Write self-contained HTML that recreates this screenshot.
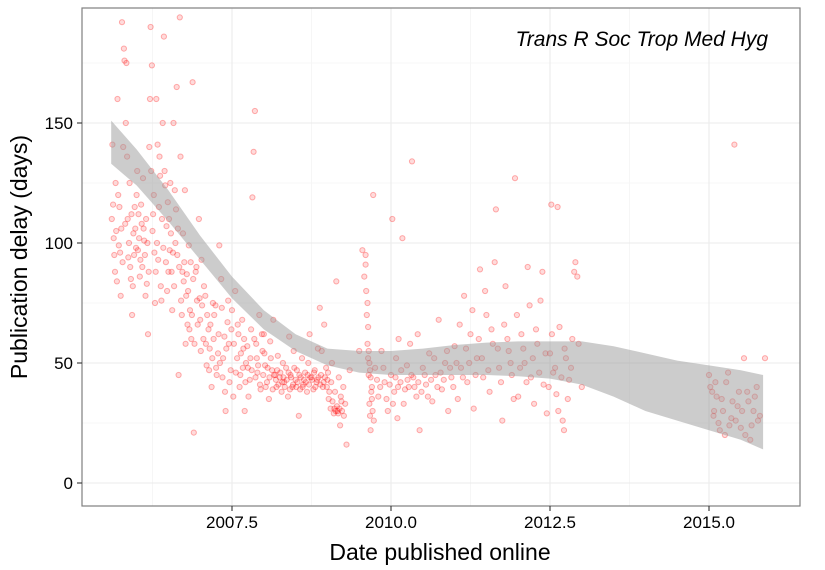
<!DOCTYPE html>
<html><head><meta charset="utf-8"><style>
body{margin:0;background:#fff;}
svg{display:block;font-family:"Liberation Sans",sans-serif;}
</style></head><body>
<svg id="chart" width="825" height="570" viewBox="0 0 825 570" xmlns="http://www.w3.org/2000/svg">
<rect x="0" y="0" width="825" height="570" fill="#fff"/>
<g id="grid"></g>
<g id="pts"></g>
<g id="band"></g>
<rect x="82" y="8" width="718" height="498" fill="none" stroke="#7f7f7f" stroke-width="1.2"/>
<g id="axes"></g>
<text x="768" y="46" text-anchor="end" font-size="21" font-style="italic" fill="#000">Trans R Soc Trop Med Hyg</text>
<text x="440" y="560" text-anchor="middle" font-size="23" fill="#000">Date published online</text>
<text transform="translate(27,257) rotate(-90)" text-anchor="middle" font-size="23" fill="#000">Publication delay (days)</text>
</svg>
<script>
const xTicks=[2007.5,2010.0,2012.5,2015.0];
const xTickLabels=["2007.5","2010.0","2012.5","2015.0"];
const yTicks=[0,50,100,150];
const yTickLabels=["0","50","100","150"];
const bandX=[2005.6,2006.0,2006.5,2007.0,2007.5,2008.0,2008.5,2009.0,2009.5,2010.0,2010.5,2011.0,2011.5,2012.0,2012.5,2013.0,2013.5,2014.0,2014.5,2015.0,2015.5,2015.85];
const bandUpper=[151,139,122,103,86,72,62,56,55,55,56,57.5,58.5,59,59,59,57,54,51,49,47,45];
const bandLower=[133,124,109,93,77,64,55,49,46,45,45,45,45,44.5,43.5,41,36,30,26,22,18,14];
const pointData=`2005.62 141,2005.63 116,2005.65 95,2005.66 88,2005.68 105,2005.7 160,2005.72 99,2005.73 115,2005.75 78,2005.77 192,2005.78 92,2005.8 181,2005.81 176,2005.82 108,2005.84 175,2005.85 136,2005.86 110,2005.88 100,2005.9 90,2005.91 85,2005.93 70,2005.95 104,2005.97 115,2005.99 98,2006.0 120,2006.02 97,2006.03 112,2006.05 86,2006.06 93,2006.08 108,2006.1 127,2006.12 101,2006.14 78,2006.16 83,2006.18 62,2006.2 140,2006.22 190,2006.24 174,2006.26 112,2006.28 96,2006.3 88,2006.31 160,2006.33 141,2006.35 115,2006.37 128,2006.39 76,2006.41 150,2006.43 186,2006.45 124,2006.47 107,2006.49 117,2006.5 88,2006.52 97,2006.54 104,2006.56 72,2006.58 150,2006.6 122,2006.62 114,2006.64 95,2006.66 45,2006.68 194,2006.69 136,2006.71 70,2006.72 88,2006.74 84,2006.76 122,2006.78 78,2006.8 66,2006.82 99,2006.84 72,2006.86 60,2006.88 167,2006.9 21,2006.93 88,2006.95 76,2006.98 110,2007.0 68,2007.02 93,2007.05 60,2007.08 78,2007.1 49,2007.13 64,2007.15 56,2007.18 40,2007.2 75,2007.22 70,2007.25 48,2007.28 54,2007.3 99,2007.33 85,2007.35 44,2007.38 61,2007.4 30,2007.43 67,2007.45 58,2007.48 47,2007.5 72,2007.52 36,2007.55 80,2007.58 52,2007.6 62,2007.63 45,2007.66 68,2007.68 56,2007.7 30,2007.72 50,2007.75 48,2007.78 43,2007.8 64,2007.82 119,2007.84 138,2007.86 155,2007.88 58,2007.9 46,2007.93 70,2007.95 39,2007.98 55,2008.0 62,2008.02 49,2008.05 42,2008.08 35,2008.1 59,2008.13 47,2008.15 68,2008.18 45,2008.2 40,2008.22 53,2008.25 44,2008.28 38,2008.3 50,2008.32 42,2008.35 48,2008.38 36,2008.4 61,2008.42 45,2008.45 40,2008.47 55,2008.5 43,2008.52 47,2008.55 28,2008.57 39,2008.6 52,2008.62 41,2008.65 46,2008.68 38,2008.7 50,2008.72 62,2008.75 44,2008.78 39,2008.8 47,2008.83 42,2008.85 56,2008.88 73,2008.9 45,2008.93 40,2008.95 66,2008.98 48,2009.0 43,2009.02 35,2009.05 31,2009.07 50,2009.1 29,2009.12 38,2009.14 84,2009.16 30,2009.18 44,2009.2 24,2009.22 34,2009.25 40,2009.3 16,2009.35 47,2009.5 55,2009.55 97,2009.58 86,2009.6 91,2009.62 70,2009.63 58,2009.64 52,2009.65 45,2009.66 33,2009.67 28,2009.68 22,2009.7 40,2009.72 120,2009.75 48,2009.8 36,2009.85 55,2009.9 42,2009.95 30,2010.0 45,2010.02 110,2010.05 38,2010.08 52,2010.1 27,2010.12 60,2010.15 42,2010.18 102,2010.2 33,2010.25 49,2010.28 40,2010.3 58,2010.33 134,2010.35 44,2010.4 36,2010.42 62,2010.45 22,2010.5 48,2010.55 41,2010.6 54,2010.65 34,2010.7 45,2010.75 68,2010.8 39,2010.85 50,2010.9 30,2010.95 44,2011.0 57,2011.05 35,2011.1 48,2011.15 78,2011.2 42,2011.25 62,2011.3 31,2011.35 52,2011.4 89,2011.45 44,2011.5 70,2011.55 38,2011.6 58,2011.65 114,2011.7 48,2011.75 26,2011.8 82,2011.85 55,2011.9 45,2011.95 127,2012.0 36,2012.05 62,2012.1 50,2012.15 90,2012.2 44,2012.25 33,2012.3 58,2012.35 76,2012.4 41,2012.45 29,2012.5 54,2012.52 116,2012.55 46,2012.6 37,2012.62 115,2012.65 65,2012.7 26,2012.72 22,2012.75 52,2012.8 43,2012.85 60,2012.88 88,2012.9 92,2012.95 58,2013.0 40,2015.0 45,2015.05 38,2015.08 30,2015.1 42,2015.15 25,2015.2 35,2015.25 20,2015.3 46,2015.35 27,2015.4 141,2015.45 32,2015.5 23,2015.55 52,2015.6 38,2015.65 18,2015.7 30,2015.75 40,2015.8 28,2015.88 52`;
const pointData2=`2005.61 110,2005.64 102,2005.67 125,2005.69 84,2005.71 120,2005.74 96,2005.76 106,2005.79 140,2005.83 150,2005.87 94,2005.89 125,2005.92 112,2005.94 82,2005.96 95,2005.98 106,2006.01 130,2006.04 102,2006.07 116,2006.09 90,2006.11 106,2006.13 95,2006.15 110,2006.17 100,2006.19 88,2006.21 160,2006.23 130,2006.25 105,2006.27 120,2006.29 75,2006.32 100,2006.34 93,2006.36 136,2006.38 82,2006.4 110,2006.42 98,2006.44 130,2006.46 92,2006.48 80,2006.51 110,2006.53 125,2006.55 88,2006.57 96,2006.59 82,2006.61 100,2006.63 165,2006.65 106,2006.67 90,2006.7 76,2006.73 104,2006.75 92,2006.77 58,2006.79 87,2006.81 80,2006.83 64,2006.85 92,2006.87 70,2006.89 85,2006.91 58,2006.94 90,2006.96 66,2006.99 77,2007.01 55,2007.03 74,2007.06 82,2007.09 58,2007.11 70,2007.14 47,2007.16 66,2007.19 52,2007.21 60,2007.24 74,2007.26 45,2007.29 62,2007.31 50,2007.34 73,2007.36 52,2007.39 38,2007.41 56,2007.44 76,2007.46 42,2007.49 64,2007.53 58,2007.56 46,2007.59 66,2007.62 40,2007.64 54,2007.67 48,2007.69 60,2007.71 42,2007.74 57,2007.76 36,2007.79 52,2007.81 47,2007.85 60,2007.87 44,2007.89 52,2007.91 49,2007.94 41,2007.97 62,2007.99 45,2008.01 54,2008.03 40,2008.06 48,2008.09 44,2008.11 52,2008.14 39,2008.16 45,2008.19 43,2008.21 47,2008.23 41,2008.26 46,2008.29 42,2008.31 44,2008.33 40,2008.36 43,2008.39 46,2008.41 39,2008.43 44,2008.46 41,2008.48 48,2008.51 40,2008.53 42,2008.56 45,2008.58 44,2008.61 40,2008.63 43,2008.66 42,2008.69 45,2008.71 41,2008.73 44,2008.76 43,2008.79 46,2008.81 40,2008.84 43,2008.86 44,2008.89 41,2008.91 55,2008.94 42,2008.96 44,2008.99 40,2009.01 46,2009.03 38,2009.06 42,2009.08 34,2009.11 31,2009.13 30,2009.15 32,2009.17 29,2009.19 31,2009.21 36,2009.23 30,2009.26 28,2009.28 33,2009.6 95,2009.61 80,2009.63 75,2009.64 65,2009.65 55,2009.66 50,2009.67 47,2009.68 44,2009.69 38,2009.7 35,2009.71 30,2009.73 26,2009.78 43,2009.83 40,2009.88 48,2009.93 35,2009.98 41,2010.03 33,2010.07 44,2010.11 40,2010.16 47,2010.22 39,2010.26 43,2010.32 45,2010.37 40,2010.43 42,2010.48 38,2010.53 45,2010.58 36,2010.63 43,2010.68 52,2010.73 40,2010.78 46,2010.83 43,2010.88 55,2010.93 48,2010.98 40,2011.03 50,2011.08 66,2011.13 44,2011.18 56,2011.23 50,2011.28 72,2011.33 45,2011.38 60,2011.43 52,2011.48 80,2011.53 47,2011.58 64,2011.63 92,2011.68 56,2011.73 42,2011.78 66,2011.83 60,2011.88 50,2011.93 35,2011.98 70,2012.03 48,2012.08 56,2012.13 42,2012.18 74,2012.23 52,2012.28 64,2012.33 46,2012.38 88,2012.43 54,2012.48 40,2012.53 62,2012.58 48,2012.63 30,2012.68 44,2012.73 56,2012.78 35,2012.83 48,2012.93 86,2015.02 40,2015.07 28,2015.12 36,2015.17 22,2015.22 30,2015.27 42,2015.32 24,2015.37 34,2015.42 26,2015.47 38,2015.52 30,2015.57 20,2015.62 34,2015.67 24,2015.72 36,2015.77 26`;
const allPts=(pointData+','+pointData2).split(',');
const dates=allPts.map(s=>+s.split(' ')[0]);
const delays=allPts.map(s=>+s.split(' ')[1]);

const X0=82,X1=800,Y0=8,Y1=506;
const xs=d=>232+(d-2007.5)*63.6;
const ys=v=>483-v*2.4;
const NS="http://www.w3.org/2000/svg";
function mk(tag,attrs,parent){const e=document.createElementNS(NS,tag);for(const k in attrs)e.setAttribute(k,attrs[k]);parent.appendChild(e);return e;}
const grid=document.getElementById('grid'),axes=document.getElementById('axes');
[2006.25,2008.75,2011.25,2013.75].forEach(d=>{const l=mk('line',{x1:xs(d),x2:xs(d),y1:Y0,y2:Y1,stroke:'#f4f4f4','stroke-width':0.8},grid);

});
[25,75,125,175].forEach(v=>{const l=mk('line',{x1:X0,x2:X1,y1:ys(v),y2:ys(v),stroke:'#f4f4f4','stroke-width':0.8},grid);

});
xTicks.forEach((d,i)=>{const l=mk('line',{x1:xs(d),x2:xs(d),y1:Y0,y2:Y1,stroke:'#ebebeb','stroke-width':1.1},grid);


const t=mk('line',{x1:xs(d),x2:xs(d),y1:Y1,y2:Y1+5,stroke:'#333','stroke-width':1.1},axes);


const tx=mk('text',{x:xs(d),y:Y1+22,'text-anchor':'middle','font-size':17,fill:'#000'},axes);tx.textContent=xTickLabels[i];

});
yTicks.forEach((v,i)=>{const l=mk('line',{x1:X0,x2:X1,y1:ys(v),y2:ys(v),stroke:'#ebebeb','stroke-width':1.1},grid);


const t=mk('line',{x1:X0-5,x2:X0,y1:ys(v),y2:ys(v),stroke:'#333','stroke-width':1.1},axes);


const tx=mk('text',{x:X0-9,y:ys(v)+6,'text-anchor':'end','font-size':17,fill:'#000'},axes);tx.textContent=yTickLabels[i];

});
const pts=document.getElementById('pts');
dates.forEach((d,i)=>{const c=mk('circle',{cx:xs(d).toFixed(1),cy:ys(delays[i]).toFixed(1),r:2.6,fill:'#ff0000','fill-opacity':0.14,stroke:'#ff0000','stroke-opacity':0.3,'stroke-width':1},pts);

});
let dpath='';bandX.forEach((d,i)=>{dpath+=(i?'L':'M')+xs(d).toFixed(1)+','+ys(bandUpper[i]).toFixed(1);});
for(let i=bandX.length-1;i>=0;i--)dpath+='L'+xs(bandX[i]).toFixed(1)+','+ys(bandLower[i]).toFixed(1);
const bp=mk('path',{d:dpath+'Z',fill:'#999','fill-opacity':0.5},document.getElementById('band'));


</script>
</body></html>
